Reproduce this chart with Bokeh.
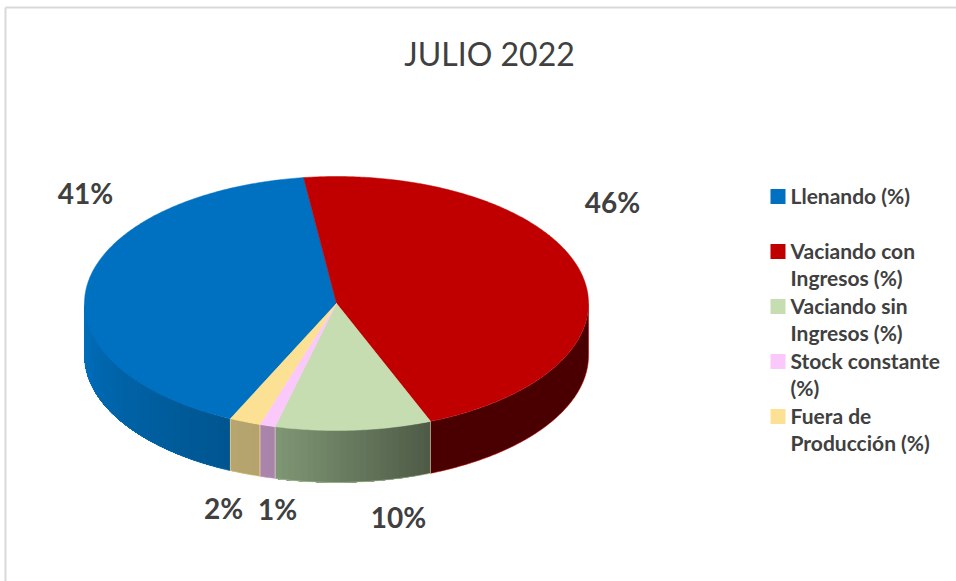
import numpy as np
from bokeh.plotting import figure
from bokeh.core.properties import value
from bokeh.embed import file_html
from bokeh.resources import INLINE

title = "JULIO 2022"
categories = ["Llenando (%)", "Vaciando con\nIngresos (%)", "Vaciando sin\nIngresos (%)",
              "Stock constante\n(%)", "Fuera de\nProducción (%)"]
shares = [41, 46, 10, 1, 2]
labels = ["41%", "46%", "10%", "1%", "2%"]
top_colors = ["#0070C0", "#C00000", "#C5DDB0", "#FBC8FB", "#FCE093"]
side_light = ["#0070BE", "#4A0000", "#7F9775", "#AA85AA", "#B7A56F"]
side_dark = ["#00558F", "#4A0000", "#4E5A46", "#A883A8", "#B5A36D"]

X0, Y0, W, H = 0, 0, 956, 581
CX, CY, RX, RY, DEPTH = 336, 303, 252, 127, 52
START = -7.5 - 360 * shares[0] / sum(shares)

p = figure(width=W, height=H, x_range=(X0, X0 + W), y_range=(Y0 + H, Y0),
           x_axis_type=None, y_axis_type=None, toolbar_location=None,
           output_backend="svg", min_border=0, outline_line_color=None,
           background_fill_color="white")
p.grid.visible = False


def ex(t):
    return CX + RX * np.sin(np.radians(t))


def ey(t):
    return CY - RY * np.cos(np.radians(t))


def hexmix(a, b, f):
    ca = [int(a[i:i + 2], 16) for i in (1, 3, 5)]
    cb = [int(b[i:i + 2], 16) for i in (1, 3, 5)]
    return "#%02x%02x%02x" % tuple(round(u + (v - u) * f) for u, v in zip(ca, cb))


# frame
p.line([5, 5], [Y0 + H, 7], line_color="#D9D9D9", line_width=2)
p.line([5, X0 + W], [7, 7], line_color="#D9D9D9", line_width=2)

edges = START + np.cumsum([0] + shares) * 360 / sum(shares)

# outer walls (only the front half of the ellipse is visible)
for i in range(len(shares)):
    a, b = edges[i], edges[i + 1]
    for lo, hi in ((a, b), (a + 360, b + 360)):
        lo2, hi2 = max(lo, 90), min(hi, 270)
        if hi2 <= lo2:
            continue
        same = side_light[i] == side_dark[i]
        n = 1 if same else max(2, int((hi2 - lo2) / 1.5))
        ts = np.linspace(lo2, hi2, n + 1)
        # painted from the far end so every strip overlaps its neighbour: no seams
        for j in range(n):
            sub = np.linspace(ts[j], hi2, max(3, int((hi2 - ts[j]) * 2)))
            c = hexmix(side_light[i], side_dark[i], 1 - (j + 0.5) / n)
            p.patch(list(ex(sub)) + list(ex(sub[::-1])),
                    list(ey(sub)) + list(ey(sub[::-1]) + DEPTH),
                    fill_color=c, line_color=None)
        sub = np.linspace(lo2, hi2, 60)
        p.line(list(ex(sub)) + [ex(hi2), ex(hi2)],
               list(ey(sub) + DEPTH) + [ey(hi2) + DEPTH, ey(hi2)],
               line_color=top_colors[i], line_alpha=0.55, line_width=1)
        p.line([ex(lo2), ex(lo2)], [ey(lo2), ey(lo2) + DEPTH],
               line_color=top_colors[i], line_alpha=0.55, line_width=1)

# top face
for i in range(len(shares)):
    t = np.linspace(edges[i], edges[i + 1], max(3, int(shares[i] * 6)))
    p.patch([CX] + list(ex(t)), [CY] + list(ey(t)), fill_color=top_colors[i],
            line_color=top_colors[i], line_width=0.5)

# title
p.text([489], [53], text=[title], text_align="center", text_baseline="middle",
       text_font=value("Lato"), text_font_size="32px", text_color="#404040")

# percentage labels
label_x = [85, 612, 398, 277, 223]
label_y = [192, 201, 516, 508, 507]
p.text(label_x, label_y, text=labels, text_align="center", text_baseline="middle",
       text_font=value("Lato"), text_font_style="bold", text_font_size="28px",
       text_color="#404040")

# legend
leg_y = [196, 251, 306, 361, 416]
p.rect([777.5] * 5, leg_y, width=15, height=15, fill_color=top_colors, line_color=None)
p.text([790] * 5, [y - 14 for y in leg_y], text=categories, text_align="left",
       text_baseline="top", text_font=value("Lato"), text_font_style="bold",
       text_font_size="21px", text_color="#404040", text_line_height=1.1)

open("out.html", "w").write(file_html(p, INLINE))
